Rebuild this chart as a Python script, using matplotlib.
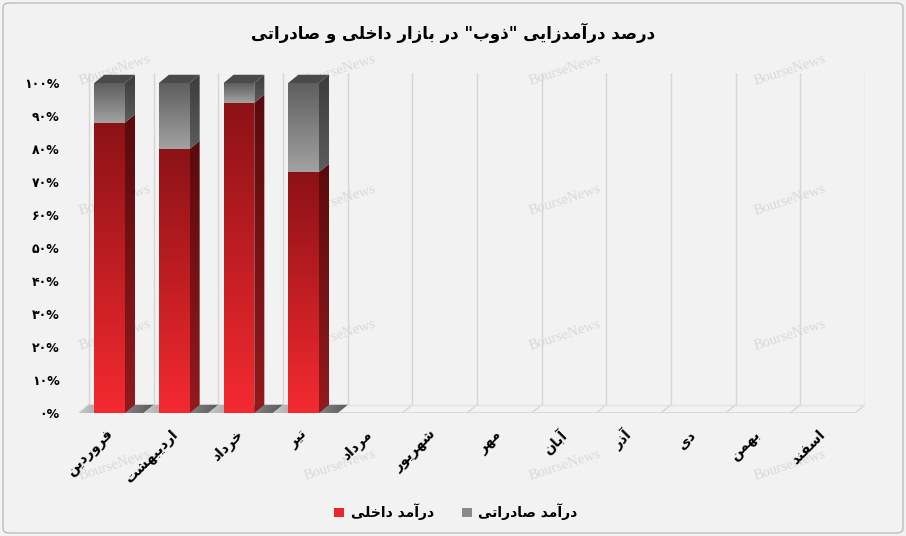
import numpy as np
import matplotlib
matplotlib.use("Agg")
import matplotlib.pyplot as plt
from matplotlib.patches import Polygon, Patch, FancyBboxPatch
from matplotlib.colors import LinearSegmentedColormap

# ---- data ----
months = ["فروردین", "اردیبهشت", "خرداد", "تیر", "مرداد", "شهریور",
          "مهر", "آبان", "آذر", "دی", "بهمن", "اسفند"]
domestic = [88, 80, 94, 73]          # درآمد داخلی (%)
export = [12, 20, 6, 27]             # درآمد صادراتی (%)
yticks = [0, 10, 20, 30, 40, 50, 60, 70, 80, 90, 100]
title = 'درصد درآمدزایی "ذوب" در بازار داخلی و صادراتی'
leg_domestic = "درآمد داخلی"
leg_export = "درآمد صادراتی"

# ---- simple persian shaping (no bidi engine in matplotlib) ----
FORMS = {  # iso, fin, ini, med
    'ا': (0xFE8D, 0xFE8E), 'آ': (0xFE81, 0xFE82), 'د': (0xFEA9, 0xFEAA),
    'ذ': (0xFEAB, 0xFEAC), 'ر': (0xFEAD, 0xFEAE), 'ز': (0xFEAF, 0xFEB0),
    'ژ': (0xFB8A, 0xFB8B), 'و': (0xFEED, 0xFEEE),
    'ب': (0xFE8F, 0xFE90, 0xFE91, 0xFE92), 'پ': (0xFB56, 0xFB57, 0xFB58, 0xFB59),
    'ت': (0xFE95, 0xFE96, 0xFE97, 0xFE98), 'ث': (0xFE99, 0xFE9A, 0xFE9B, 0xFE9C),
    'ج': (0xFE9D, 0xFE9E, 0xFE9F, 0xFEA0), 'چ': (0xFB7A, 0xFB7B, 0xFB7C, 0xFB7D),
    'ح': (0xFEA1, 0xFEA2, 0xFEA3, 0xFEA4), 'خ': (0xFEA5, 0xFEA6, 0xFEA7, 0xFEA8),
    'س': (0xFEB1, 0xFEB2, 0xFEB3, 0xFEB4), 'ش': (0xFEB5, 0xFEB6, 0xFEB7, 0xFEB8),
    'ص': (0xFEB9, 0xFEBA, 0xFEBB, 0xFEBC), 'ض': (0xFEBD, 0xFEBE, 0xFEBF, 0xFEC0),
    'ط': (0xFEC1, 0xFEC2, 0xFEC3, 0xFEC4), 'ظ': (0xFEC5, 0xFEC6, 0xFEC7, 0xFEC8),
    'ع': (0xFEC9, 0xFECA, 0xFECB, 0xFECC), 'غ': (0xFECD, 0xFECE, 0xFECF, 0xFED0),
    'ف': (0xFED1, 0xFED2, 0xFED3, 0xFED4), 'ق': (0xFED5, 0xFED6, 0xFED7, 0xFED8),
    'ک': (0xFB8E, 0xFB8F, 0xFB90, 0xFB91), 'گ': (0xFB92, 0xFB93, 0xFB94, 0xFB95),
    'ل': (0xFEDD, 0xFEDE, 0xFEDF, 0xFEE0), 'م': (0xFEE1, 0xFEE2, 0xFEE3, 0xFEE4),
    'ن': (0xFEE5, 0xFEE6, 0xFEE7, 0xFEE8), 'ه': (0xFEE9, 0xFEEA, 0xFEEB, 0xFEEC),
    'ی': (0xFBFC, 0xFBFD, 0xFBFE, 0xFBFF),
}


def fa(s):
    out = []
    for i, ch in enumerate(s):
        if ch not in FORMS:
            out.append(ch)
            continue
        f = FORMS[ch]
        prev = s[i - 1] if i > 0 else ''
        nxt = s[i + 1] if i + 1 < len(s) else ''
        join_prev = prev in FORMS and len(FORMS[prev]) == 4
        join_next = len(f) == 4 and nxt in FORMS
        if join_prev and join_next:
            out.append(chr(f[3]))
        elif join_prev:
            out.append(chr(f[1]))
        elif join_next:
            out.append(chr(f[2]))
        else:
            out.append(chr(f[0]))
    return ''.join(out)[::-1]


def fa_num(n):
    return ''.join(chr(0x06F0 + int(d)) for d in str(n)) + '%'


plt.rcParams['font.family'] = ['DejaVu Sans']

W, H = 906, 536
fig = plt.figure(figsize=(W / 100, H / 100), dpi=100)
fig.patch.set_facecolor('#f2f2f2')
fig.patches.append(FancyBboxPatch((3 / W, 3 / H), 1 - 6 / W, 1 - 6 / H,
                                  boxstyle='round,pad=0,rounding_size=0.008',
                                  transform=fig.transFigure, facecolor='none',
                                  edgecolor='#bcbcbc', lw=1))

# watermarks (behind the chart)
for wy in [70, 200, 335, 465]:
    for wx in [115, 340, 565, 790]:
        fig.text(wx / W, 1 - wy / H, 'BourseNews', rotation=18, ha='center',
                 va='center', color='#d9d9d9', fontsize=10.5,
                 family='Liberation Serif', zorder=0)

# axes: x 0..12 -> px 79..855, y 0..1 -> px 413..83
dx, dy = 0.155, 0.025
ytop = 1.03
left, right = 79, 855 + 10
ax = fig.add_axes([left / W, (H - 413) / H, (right - left) / W, (330 * ytop) / H])
ax.set_zorder(1)
ax.set_xlim(0, 12 + dx)
ax.set_ylim(0, ytop)
ax.set_facecolor('none')
for sp in ax.spines.values():
    sp.set_visible(False)

# walls / floor
grid_c = '#d6d6d6'
for k in range(13):
    ax.plot([k + dx, k + dx], [dy, ytop], color=grid_c, lw=1, zorder=1)
    ax.plot([k, k + dx], [0, dy], color=grid_c, lw=1, zorder=1)
ax.plot([0, 12], [0, 0], color=grid_c, lw=1.2, zorder=1)
ax.plot([dx, 12 + dx], [dy, dy], color='#e2e2e2', lw=1, zorder=1)


def grad_poly(verts, c0, c1, z, horizontal=False):
    poly = Polygon(verts, closed=True, facecolor='none', edgecolor='none')
    ax.add_patch(poly)
    xs = [v[0] for v in verts]
    ys = [v[1] for v in verts]
    cmap = LinearSegmentedColormap.from_list('g', [c0, c1])
    arr = np.linspace(0, 1, 128)
    arr = arr.reshape(1, -1) if horizontal else arr.reshape(-1, 1)
    im = ax.imshow(arr, extent=(min(xs), max(xs), min(ys), max(ys)),
                   origin='lower', cmap=cmap, aspect='auto', zorder=z,
                   interpolation='bilinear')
    im.set_clip_path(poly)


bw = 0.475
off = 0.236
for k, (d, e) in enumerate(zip(domestic, export)):
    # floor shadow
    grad_poly([(k, 0), (k + 1, 0), (k + 1 + dx, dy), (k + dx, dy)],
              '#c8c8c8', '#5a5a5a', 2, horizontal=True)
    x0 = k + off
    x1 = x0 + bw
    v = d / 100
    t = (d + e) / 100
    # domestic front + side
    grad_poly([(x0, 0), (x1, 0), (x1, v), (x0, v)], '#f42a30', '#8c1216', 3)
    grad_poly([(x1, 0), (x1 + dx, dy), (x1 + dx, v + dy), (x1, v)],
              '#921a1d', '#5a0b0d', 3)
    # export front + side
    grad_poly([(x0, v), (x1, v), (x1, t), (x0, t)], '#a2a2a2', '#5e5e5e', 3)
    grad_poly([(x1, v), (x1 + dx, v + dy), (x1 + dx, t + dy), (x1, t)],
              '#5c5c5c', '#3c3c3c', 3)
    # top
    ax.add_patch(Polygon([(x0, t), (x1, t), (x1 + dx, t + dy), (x0 + dx, t + dy)],
                         closed=True, facecolor='#4a4a4a', edgecolor='none',
                         zorder=4))

# ticks
ax.set_yticks([y / 100 for y in yticks])
ax.set_yticklabels([fa_num(y) for y in yticks], fontsize=9, fontweight='bold')
ax.set_xticks([k + 0.5 for k in range(12)])
ax.set_xticklabels([fa(m) for m in months], rotation=45, ha='right',
                   va='center', rotation_mode='anchor', fontsize=10,
                   fontweight='bold')
ax.tick_params(axis='y', length=0, pad=14)
ax.tick_params(axis='x', length=0, pad=14)

fig.text(453 / W, 1 - 33 / H, fa(title), ha='center', va='center',
         fontsize=12, fontweight='bold')

handles = [Patch(facecolor='#e8262c', edgecolor='none'),
           Patch(facecolor='#8a8a8a', edgecolor='none')]
fig.legend(handles, [fa(leg_domestic), fa(leg_export)], loc='center',
           bbox_to_anchor=(456 / W, 1 - 512 / H), ncol=2, frameon=False,
           handlelength=0.7, handleheight=0.7, handletextpad=0.5,
           columnspacing=2.0, prop={'weight': 'bold', 'size': 10})

fig.savefig('out.png', dpi=100, facecolor=fig.get_facecolor())
